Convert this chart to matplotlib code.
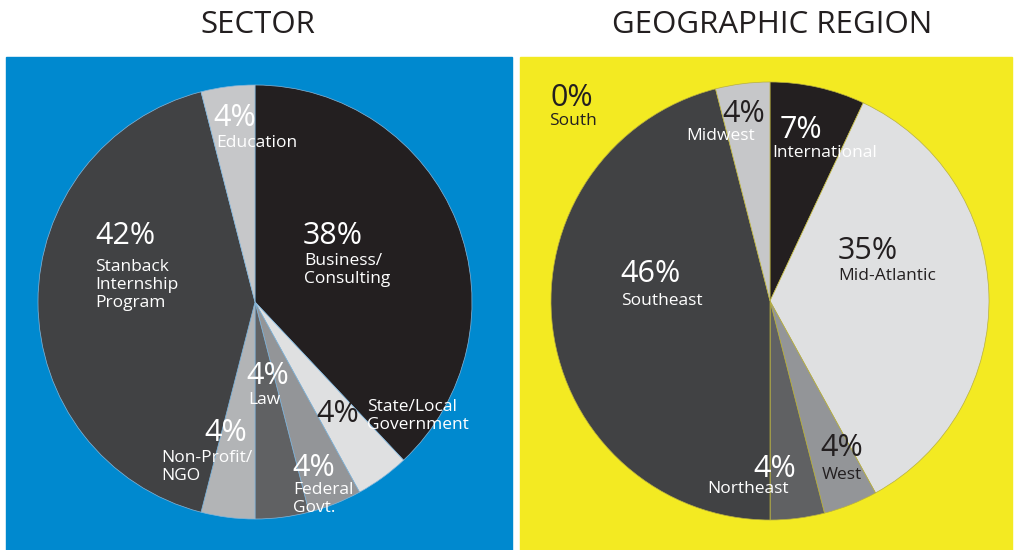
import matplotlib
matplotlib.use("Agg")
import matplotlib.pyplot as plt
from matplotlib.patches import Rectangle

# ---- data ----
sector_labels = ["Business/\nConsulting", "State/Local\nGovernment", "Federal\nGovt.", "Law",
                 "Non-Profit/\nNGO", "Stanback\nInternship\nProgram", "Education"]
sector_values = [38, 4, 4, 4, 4, 42, 4]
sector_colors = ["#231F20", "#DFE0E1", "#939598", "#606163", "#B2B4B6", "#414244", "#C6C7C9"]

region_labels = ["International", "Mid-Atlantic", "West", "Northeast", "South", "Southeast", "Midwest"]
region_values = [7, 35, 4, 4, 0, 46, 4]
region_colors = ["#231F20", "#DFE0E1", "#939598", "#606163", "#F3EA22", "#414244", "#C6C7C9"]

BLUE = "#0089CF"
YELLOW = "#F3EA22"
DARK = "#231F20"
W, H = 1016, 550

FONT = ["Open Sans", "DejaVu Sans"]

fig = plt.figure(figsize=(W / 100, H / 100), dpi=100)
ax = fig.add_axes([0, 0, 1, 1])

# panels
ax.add_patch(Rectangle((6, 0), 506, H - 57, color=BLUE, zorder=0))
ax.add_patch(Rectangle((520, 0), 492, H - 57, color=YELLOW, zorder=0))

ax.pie(sector_values, colors=sector_colors, startangle=90, counterclock=False,
       center=(255, H - 302), radius=217,
       wedgeprops=dict(edgecolor="#86B6DA", linewidth=0.5), frame=True)
ax.pie(region_values, colors=region_colors, startangle=90, counterclock=False,
       center=(770, H - 301), radius=219,
       wedgeprops=dict(edgecolor="#B8B040", linewidth=0.5), frame=True)

ax.set_xlim(0, W)
ax.set_ylim(0, H)
ax.set_aspect("equal")
ax.axis("off")


def txt(x, y, s, size, color, ha="left", ls=1.15, weight="normal", va="center"):
    ax.text(x, H - y, s, fontsize=size, color=color, ha=ha, va=va,
            family=FONT, linespacing=ls, zorder=5, fontweight=weight)


# titles
txt(258, 25, "SECTOR", 22.5, DARK, ha="center", weight="medium")
txt(772, 25, "GEOGRAPHIC REGION", 22.5, DARK, ha="center", weight="medium")

WH = "white"
PCT = 22
LAB = 12.5


def pct(x, y, s, color):
    # baseline-anchored so the big numbers sit just above their names
    txt(x - 2, y + 11, s, PCT, color, va="baseline")


def lab(x, y, s, color):
    txt(x - 1, y + 1, s, LAB, color)


# left pie labels (percentages + names)
pct_sector = [f"{v}%" for v in sector_values]
pct(305, 233, pct_sector[0], WH)
lab(305, 269, sector_labels[0], WH)
pct(318, 411, pct_sector[1], DARK)
lab(368, 415, sector_labels[1], WH)
pct(294, 465, pct_sector[2], WH)
lab(294, 498, sector_labels[2], WH)
pct(248, 373, pct_sector[3], WH)
lab(249, 399, sector_labels[3], WH)
pct(206, 430, pct_sector[4], WH)
lab(162, 466, sector_labels[4], WH)
pct(97, 233, pct_sector[5], WH)
lab(96, 284, sector_labels[5], WH)
pct(215, 115, pct_sector[6], WH)
lab(217, 142, sector_labels[6], WH)

# right pie labels
pct_region = [f"{v}%" for v in region_values]
pct(782, 127, pct_region[0], WH)
lab(773, 152, region_labels[0], WH)
pct(840, 248, pct_region[1], DARK)
lab(839, 275, region_labels[1], DARK)
pct(822, 445, pct_region[2], DARK)
lab(823, 474, region_labels[2], DARK)
pct(755, 466, pct_region[3], WH)
lab(708, 488, region_labels[3], WH)
pct(552, 95, pct_region[4], DARK)
lab(550, 120, region_labels[4], DARK)
pct(622, 271, pct_region[5], WH)
lab(622, 300, region_labels[5], WH)
pct(724, 111, pct_region[6], DARK)
lab(687, 135, region_labels[6], WH)

fig.savefig("out.png", dpi=100, facecolor="white")
